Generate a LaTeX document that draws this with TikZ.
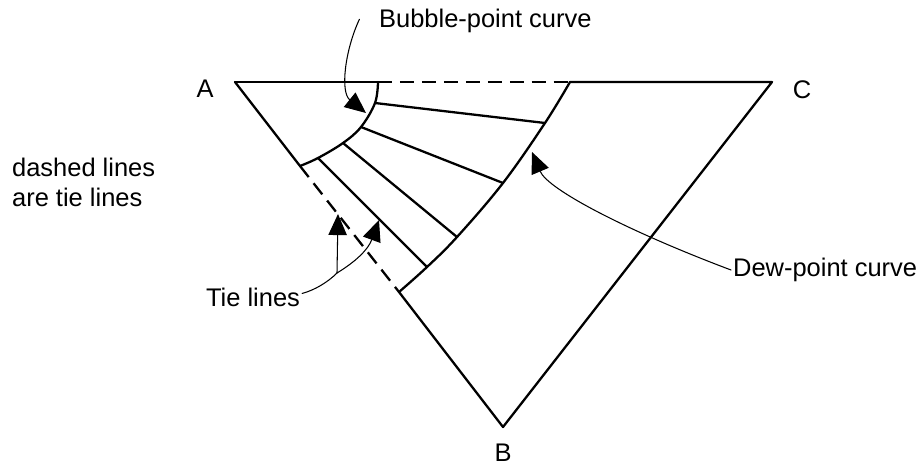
\documentclass[tikz,border=0pt]{standalone}
\usepackage{fontspec}
\setmainfont{Liberation Sans}
\usetikzlibrary{arrows.meta}

\begin{document}
\begin{tikzpicture}[x=0.02cm, y=-0.02cm, line join=round, line cap=round,
  edge/.style={line width=1.3pt},
  tieline/.style={line width=1.3pt, line cap=butt, dash pattern=on 8pt off 4.5pt},
  pointer/.style={line width=0.6pt, -{Triangle[length=12pt,width=10.5pt]}},
  lbl/.style={font=\fontsize{14.5}{17}\selectfont, inner sep=1pt}]
\useasboundingbox (0,0) rectangle (923,466);
% ---------- triangle A-B-C ----------
\coordinate (A) at (235,82);
\coordinate (B) at (503,427);
\coordinate (C) at (772,82);
% bubble-point curve
\coordinate (bp0) at (378,82);
\coordinate (bp1) at (375,103);
\coordinate (bp2) at (361,127);
\coordinate (bp3) at (343,143);
\coordinate (bp4) at (318,158);
\coordinate (bp5) at (300,166);
% dew-point curve
\coordinate (dp0) at (570,82);
\coordinate (dp1) at (545,123);
\coordinate (dp2) at (503,183);
\coordinate (dp3) at (457,237);
\coordinate (dp4) at (427,267);
\coordinate (dp5) at (399,292);
\draw[edge] (A) -- (bp0);
\draw[edge] (dp0) -- (C) -- (B) -- (dp5);
\draw[edge] (A) -- (bp5);
\draw[tieline] (bp0) -- (dp0);
\draw[tieline] (bp5) -- (dp5);
\draw[edge] plot[smooth, tension=0.6] coordinates {(bp0) (bp1) (bp2) (bp3) (bp4) (bp5)};
\draw[edge] plot[smooth, tension=0.6] coordinates {(dp0) (dp1) (dp2) (dp3) (dp4) (dp5)};
% tie lines
\foreach \i in {1,...,4}
  \draw[edge] (bp\i) -- (dp\i);
% ---------- labels ----------
\node[lbl] (labA) at (205,89) {A};
\node[lbl] (labB) at (503,453) {B};
\node[lbl] (labC) at (802,90) {C};
\node[lbl, align=left, anchor=west] (note) at (10,182) {dashed lines\\are tie lines};
\node[lbl, anchor=west] (bub) at (377,21) {Bubble-point curve};
\node[lbl, anchor=west] (dew) at (731,270) {Dew-point curve};
\node[lbl] (tie) at (253,297) {Tie lines};
% ---------- pointers ----------
\coordinate (bubtip) at (366,113);
\coordinate (dewtip) at (532,152);
\coordinate (tietipA) at (338,214);
\coordinate (tietipB) at (379,220);
\coordinate (tiefork) at (337,273);
\draw[pointer] ([xshift=-10pt,yshift=1pt]bub.west) .. controls (345,50) and (340,92) .. (bubtip);
\draw[pointer] (dew.west) .. controls (630,232) and (548,190) .. (dewtip);
\draw[line width=0.6pt] ([yshift=2pt]tie.east) .. controls (315,290) and (328,282) .. (tiefork);
\draw[pointer] (tiefork) -- (tietipA);
\draw[pointer] (tiefork) .. controls (355,262) and (368,250) .. (tietipB);
\end{tikzpicture}
\end{document}
